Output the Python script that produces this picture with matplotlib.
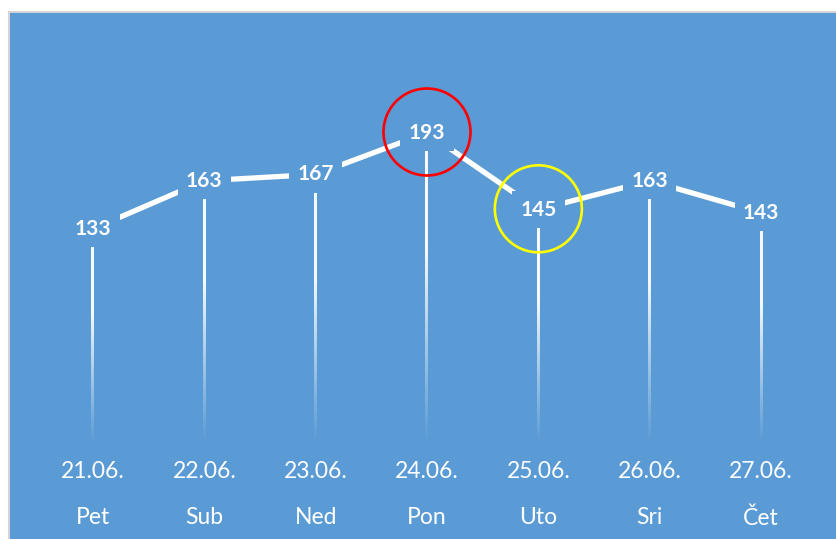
import numpy as np
import matplotlib
matplotlib.use("Agg")
import matplotlib.pyplot as plt
from matplotlib.patches import Rectangle, Ellipse
from matplotlib.colors import LinearSegmentedColormap

dates = ["21.06.", "22.06.", "23.06.", "24.06.", "25.06.", "26.06.", "27.06."]
days = ["Pet", "Sub", "Ned", "Pon", "Uto", "Sri", "Čet"]
values = [133, 163, 167, 193, 145, 163, 143]
highlight = {3: "#FF0000", 4: "#FFFF00"}

BLUE = "#5B9BD5"
plt.rcParams["font.family"] = ["Lato", "DejaVu Sans"]

fig = plt.figure(figsize=(8.37, 5.39), dpi=100)
fig.patch.set_facecolor("white")
W, H = 837, 539

# chart frame: thin grey edge at top/left, blue fill
fig.patches.append(Rectangle((8 / W, 0), 1, (H - 11) / H, transform=fig.transFigure,
                             facecolor="#D4D4D4", edgecolor="none", zorder=-10))
fig.patches.append(Rectangle((10 / W, 0), 1, (H - 13) / H, transform=fig.transFigure,
                             facecolor=BLUE, edgecolor="none", zorder=-9))

ax = fig.add_axes([37.3 / W, (H - 441.6) / H, 779.4 / W, 400 / H])
ax.set_facecolor("none")
ax.set_xlim(-0.5, len(values) - 0.5)
ax.set_ylim(0, 250)
for s in ax.spines.values():
    s.set_visible(False)
ax.set_xticks([])
ax.set_yticks([])

x = np.arange(len(values))
px_x = 779.4 / len(values)
px_y = 400 / 250

# gradient drop lines (white fading out towards the bottom)
fade = LinearSegmentedColormap.from_list(
    "fade", [(1, 1, 1, 0.0), (1, 1, 1, 0.45), (1, 1, 1, 0.95), (1, 1, 1, 0.95)])
grad = np.linspace(0, 1, 256).reshape(-1, 1)
half = 1.5 / px_x
for xi, v in zip(x, values):
    top = v - 11.5
    ax.imshow(grad, cmap=fade, origin="lower", aspect="auto", interpolation="bilinear",
              extent=(xi - half, xi + half, 0, top), zorder=2)

ax.plot(x, values, color="white", lw=3.8, solid_capstyle="butt", zorder=3)

for xi, v in zip(x, values):
    ax.text(xi, v, str(v), ha="center", va="center", color="white",
            fontsize=15, fontweight="bold", zorder=4,
            bbox=dict(boxstyle="square,pad=0.4", fc=BLUE, ec="none"))

# highlight circles (43.5 px radius)
for i, c in highlight.items():
    ax.add_patch(Ellipse((x[i], values[i] + 0.5), 2 * 43.5 / px_x, 2 * 43.5 / px_y,
                         fill=False, edgecolor=c, lw=1.9, zorder=5, clip_on=False))

ax.set_xlim(-0.5, len(values) - 0.5)
ax.set_ylim(0, 250)

tr = ax.get_xaxis_transform()
for xi, d, w in zip(x, dates, days):
    ax.text(xi, -30.4 / 400, d, transform=tr, ha="center", va="center",
            color="white", fontsize=16.5)
    ax.text(xi, -76.4 / 400, w, transform=tr, ha="center", va="center",
            color="white", fontsize=16.5)

fig.savefig("out.png", dpi=100)
